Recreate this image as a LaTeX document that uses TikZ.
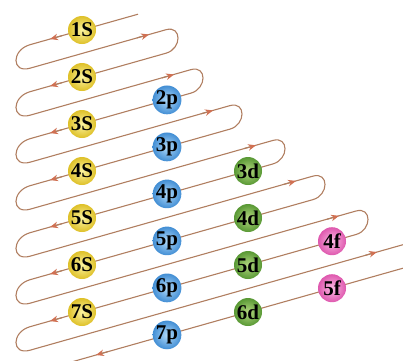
\documentclass[tikz,border=0pt]{standalone}
\usepackage{fontspec}
\setmainfont{Liberation Serif}
\usetikzlibrary{arrows.meta}
\definecolor{trackbrown}{RGB}{176,126,96}
\definecolor{tipred}{RGB}{208,112,82}
\definecolor{sIn}{RGB}{252,244,160}
\definecolor{sOut}{RGB}{222,192,40}
\definecolor{pIn}{RGB}{176,218,250}
\definecolor{pOut}{RGB}{66,142,212}
\definecolor{dIn}{RGB}{180,216,128}
\definecolor{dOut}{RGB}{88,152,52}
\definecolor{fIn}{RGB}{252,186,228}
\definecolor{fOut}{RGB}{222,88,174}

\tikzset{
  orbital/.style={circle, minimum size=28pt, inner sep=0pt, font=\bfseries\fontsize{21}{21}\selectfont},
  orbS/.style={orbital, inner color=sIn, outer color=sOut},
  orbP/.style={orbital, inner color=pIn, outer color=pOut},
  orbD/.style={orbital, inner color=dIn, outer color=dOut},
  orbF/.style={orbital, inner color=fIn, outer color=fOut},
  trackline/.style={line width=1.1pt, trackbrown, line join=round},
  trackarrow/.style={line width=1.1pt, trackbrown, -{Stealth[length=8pt, width=6.5pt, inset=2.5pt, color=tipred]}},
}

\begin{document}
\begin{tikzpicture}[x=1pt, y=-1pt]
  \useasboundingbox (0,0) rectangle (403,360);
  \clip (0,0) rectangle (403,360);

  % the zigzag track, leftward lines run through the orbitals
  \draw[trackline] (138,14.2) -- (30,44.7)
    .. controls (11.3,50.0) and (11.3,73.5) .. (30,68.2) -- (166,29.7)
    .. controls (182,25.2) and (182,48.7) .. (166,53.2) -- (30,91.7)
    .. controls (11.3,97.0) and (11.3,120.5) .. (30,115.2) -- (191,69.6)
    .. controls (207,65.1) and (207,88.6) .. (191,93.1) -- (30,138.7)
    .. controls (11.3,144.0) and (11.3,167.5) .. (30,162.2) -- (230,105.6)
    .. controls (246,101.1) and (246,124.6) .. (230,129.1) -- (30,185.7)
    .. controls (11.3,191.0) and (11.3,214.5) .. (30,209.2) -- (273,140.4)
    .. controls (289,135.9) and (289,159.4) .. (273,163.9) -- (30,232.7)
    .. controls (11.3,238.0) and (11.3,261.5) .. (30,256.2) -- (313,176.1)
    .. controls (329,171.6) and (329,195.1) .. (313,199.6) -- (30,279.7)
    .. controls (11.3,285.0) and (11.3,308.5) .. (30,303.2) -- (356,211.0)
    .. controls (372,206.5) and (372,230.0) .. (356,234.5) -- (30,326.7)
    .. controls (11.3,332.0) and (11.3,355.5) .. (30,350.2) -- (410,242.7)
    .. controls (426,238.2) and (426,261.7) .. (410,266.2) -- (60,365.2);

  % arrow heads pointing left
  \draw[trackarrow] (62,35.7) -- (50,39.1);
  \draw[trackarrow] (62,82.7) -- (50,86.1);
  \draw[trackarrow] (62,129.7) -- (50,133.1);
  \draw[trackarrow] (62,176.7) -- (50,180.1);
  \draw[trackarrow] (62,223.7) -- (50,227.1);
  \draw[trackarrow] (62,270.7) -- (50,274.1);
  \draw[trackarrow] (62,317.7) -- (50,321.1);
  \draw[trackarrow] (108,351.6) -- (96,355.0);
  % arrow heads pointing right
  \draw[trackarrow] (137,37.9) -- (149,34.5);
  \draw[trackarrow] (162,77.9) -- (174,74.5);
  \draw[trackarrow] (201,113.8) -- (213,110.4);
  \draw[trackarrow] (244,148.6) -- (256,145.3);
  \draw[trackarrow] (284,184.3) -- (296,180.9);
  \draw[trackarrow] (327,219.2) -- (339,215.8);
  \draw[trackarrow] (365,255.4) -- (377,252.0);

  % orbitals
  \node[orbS] (s1) at (82,30) {1S};
  \node[orbS] (s2) at (82,77) {2S};
  \node[orbS] (s3) at (82,124) {3S};
  \node[orbS] (s4) at (82,171) {4S};
  \node[orbS] (s5) at (82,218) {5S};
  \node[orbS] (s6) at (82,265) {6S};
  \node[orbS] (s7) at (82,312) {7S};

  \node[orbP] (p2) at (167,99.9) {2p};
  \node[orbP] (p3) at (167,146.9) {3p};
  \node[orbP] (p4) at (167,193.9) {4p};
  \node[orbP] (p5) at (167,240.9) {5p};
  \node[orbP] (p6) at (167,287.9) {6p};
  \node[orbP] (p7) at (167,334.9) {7p};

  \node[orbD] (d3) at (248,171) {3d};
  \node[orbD] (d4) at (248,218) {4d};
  \node[orbD] (d5) at (248,265) {5d};
  \node[orbD] (d6) at (248,312) {6d};

  \node[orbF] (f4) at (332,241.2) {4f};
  \node[orbF] (f5) at (332,288.2) {5f};
\end{tikzpicture}
\end{document}
